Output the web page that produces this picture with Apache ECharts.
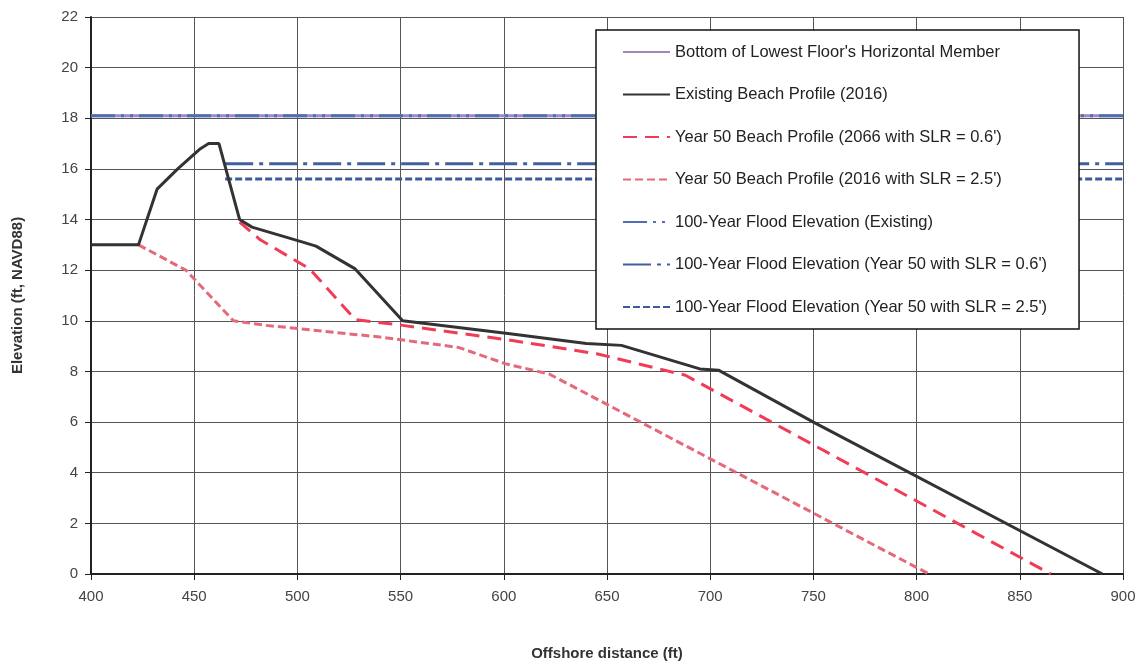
<!DOCTYPE html>
<html>
<head>
<meta charset="utf-8">
<script src="https://cdn.jsdelivr.net/npm/echarts@6/dist/echarts.min.js"></script>
<style>html,body{margin:0;padding:0;background:#fff}#c{width:1142px;height:666px}</style>
</head>
<body>
<div id="c"></div>
<script>
// Data (offshore distance ft, elevation ft NAVD88)
const seriesNames = [
  "Bottom of Lowest Floor's Horizontal Member",
  "Existing Beach Profile (2016)",
  "Year 50 Beach Profile (2066 with SLR = 0.6')",
  "Year 50 Beach Profile (2016 with SLR = 2.5')",
  "100-Year Flood Elevation (Existing)",
  "100-Year Flood Elevation (Year 50 with SLR = 0.6')",
  "100-Year Flood Elevation (Year 50 with SLR = 2.5')"
];
const lowestFloor = [[400, 18.1], [900, 18.1]];
const existingProfile = [[400, 13], [423, 13], [432, 15.2], [442, 16.0], [453, 16.8], [457, 17.0], [462, 17.0],
  [472, 14.0], [478, 13.7], [501, 13.15], [509, 12.95], [528, 12.05], [551, 10.0], [602, 9.5], [640, 9.1],
  [657, 9.03], [695, 8.1], [704, 8.05], [750, 6.0], [890, 0]];
const year50Slr06 = [[472, 13.9], [482, 13.2], [506, 12.05], [528, 10.05], [551, 9.82], [602, 9.25], [645, 8.7],
  [688, 7.85], [865, 0]];
const year50Slr25 = [[423, 13], [446, 12.0], [469, 10.0], [485, 9.82], [540, 9.36], [578, 8.95], [601, 8.3],
  [622, 7.9], [806, 0]];
const floodExisting = [[400, 18.1], [900, 18.1]];
const floodSlr06 = [[465, 16.2], [900, 16.2]];
const floodSlr25 = [[465, 15.6], [900, 15.6]];
const xTicks = {min: 400, max: 900, step: 50};
const yTicks = {min: 0, max: 22, step: 2};

const font = 'Liberation Sans';
const chart = echarts.init(document.getElementById('c'));
function line(name, data, color, width, type, z) {
  return {name, type: 'line', data, symbol: 'none', z: z || 2, animation: false,
    lineStyle: {color, width, type}, itemStyle: {color}};
}
chart.setOption({
  animation: false,
  backgroundColor: '#fff',
  grid: {left: 91, right: 19, top: 17, bottom: 90},
  xAxis: {
    type: 'value', min: xTicks.min, max: xTicks.max, interval: xTicks.step,
    name: 'Offshore distance (ft)', nameLocation: 'middle', nameGap: 72,
    nameTextStyle: {fontFamily: font, fontSize: 15, fontWeight: 'bold', color: '#333'},
    axisLine: {show: true, lineStyle: {color: '#222', width: 2}},
    axisTick: {show: true, length: 6, lineStyle: {color: '#222'}},
    axisLabel: {fontFamily: font, fontSize: 15, color: '#444', margin: 15},
    splitLine: {show: true, lineStyle: {color: '#555', width: 1}}
  },
  yAxis: {
    type: 'value', min: yTicks.min, max: yTicks.max, interval: yTicks.step,
    name: 'Elevation (ft, NAVD88)', nameLocation: 'middle', nameGap: 66,
    nameTextStyle: {fontFamily: font, fontSize: 15, fontWeight: 'bold', color: '#333'},
    axisLine: {show: true, lineStyle: {color: '#222', width: 2}},
    axisTick: {show: true, length: 6, lineStyle: {color: '#222'}},
    axisLabel: {fontFamily: font, fontSize: 15, color: '#444', margin: 13},
    splitLine: {show: true, lineStyle: {color: '#555', width: 1}}
  },
  legend: {
    orient: 'vertical', left: 596, top: 30,
    data: seriesNames,
    backgroundColor: '#fff', borderColor: '#111', borderWidth: 1.5,
    padding: [12, 32, 12, 26],
    itemWidth: 47, itemHeight: 14, itemGap: 22.5,
    itemStyle: {opacity: 0},
    textStyle: {fontFamily: font, fontSize: 16.5, color: '#222', lineHeight: 20},
    z: 10
  },
  series: [
    line(seriesNames[0], lowestFloor, '#9d88c0', 3, 'solid', 2),
    line(seriesNames[1], existingProfile, '#333333', 3, 'solid', 5),
    line(seriesNames[2], year50Slr06, '#f03c56', 3, [14, 8], 4),
    line(seriesNames[3], year50Slr25, '#e4697a', 3, [8, 4], 4),
    line(seriesNames[4], floodExisting, '#4f6fae', 3, [24, 6, 3, 6, 3, 6], 3),
    line(seriesNames[5], floodSlr06, '#42609e', 3, [28, 6, 4, 6], 3),
    line(seriesNames[6], floodSlr25, '#3d5b9a', 3, [7, 3], 3)
  ]
});
</script>
</body>
</html>
